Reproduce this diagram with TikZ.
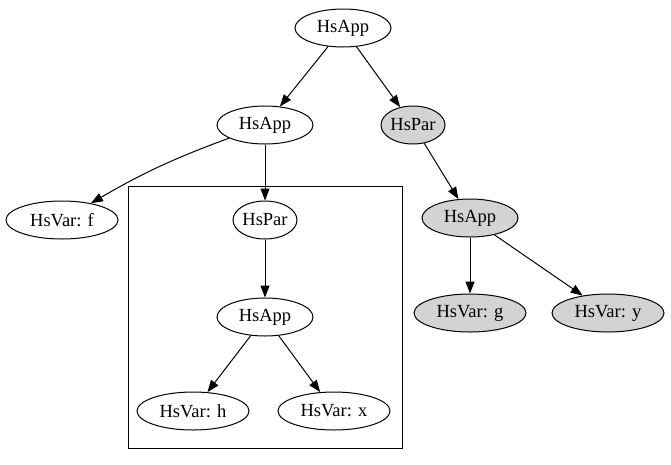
\documentclass[tikz,border=0pt]{standalone}
\usepackage{fontspec}
\setmainfont{Liberation Serif}
\usetikzlibrary{shapes.geometric,arrows.meta}
\definecolor{gvgray}{HTML}{D3D3D3}
\begin{document}
\begin{tikzpicture}[x=1pt,y=-1pt,
  nd/.style={ellipse,draw,line width=1pt,minimum height=38pt,inner sep=0pt,font=\fontsize{18.5}{20}\selectfont},
  w96/.style={minimum width=96pt},
  w64/.style={minimum width=64pt},
  w112/.style={minimum width=112pt},
  gr/.style={fill=gvgray},
  edge/.style={draw,line width=1pt,-{Triangle[length=12pt,width=9pt]}}]
\useasboundingbox (0,0) rectangle (671,464);
\draw[line width=1pt] (128,186) rectangle (402,448);
\node[nd,w96] (a1) at (343,28) {HsApp};
\node[nd,w96] (a2) at (265,125) {HsApp};
\node[nd,w64,gr] (p1) at (413,125) {HsPar};
\node[nd,w112] (vf) at (62,220) {HsVar: f};
\node[nd,w64] (p2) at (265,220) {HsPar};
\node[nd,w96,gr] (a3) at (470,218) {HsApp};
\node[nd,w96] (a4) at (265,317) {HsApp};
\node[nd,w112,gr] (vg) at (470,313) {HsVar: g};
\node[nd,w112,gr] (vy) at (608,313) {HsVar: y};
\node[nd,w112] (vh) at (193,411) {HsVar: h};
\node[nd,w112] (vx) at (334,411) {HsVar: x};
\draw[edge] (a1) -- (a2);
\draw[edge] (a1) -- (p1);
\draw[edge] (a2) to[bend right=5] (vf);
\draw[edge] (a2) -- (p2);
\draw[edge] (p1) -- (a3);
\draw[edge] (p2) -- (a4);
\draw[edge] (a3) -- (vg);
\draw[edge] (a3) -- (vy);
\draw[edge] (a4) -- (vh);
\draw[edge] (a4) -- (vx);
\end{tikzpicture}
\end{document}
